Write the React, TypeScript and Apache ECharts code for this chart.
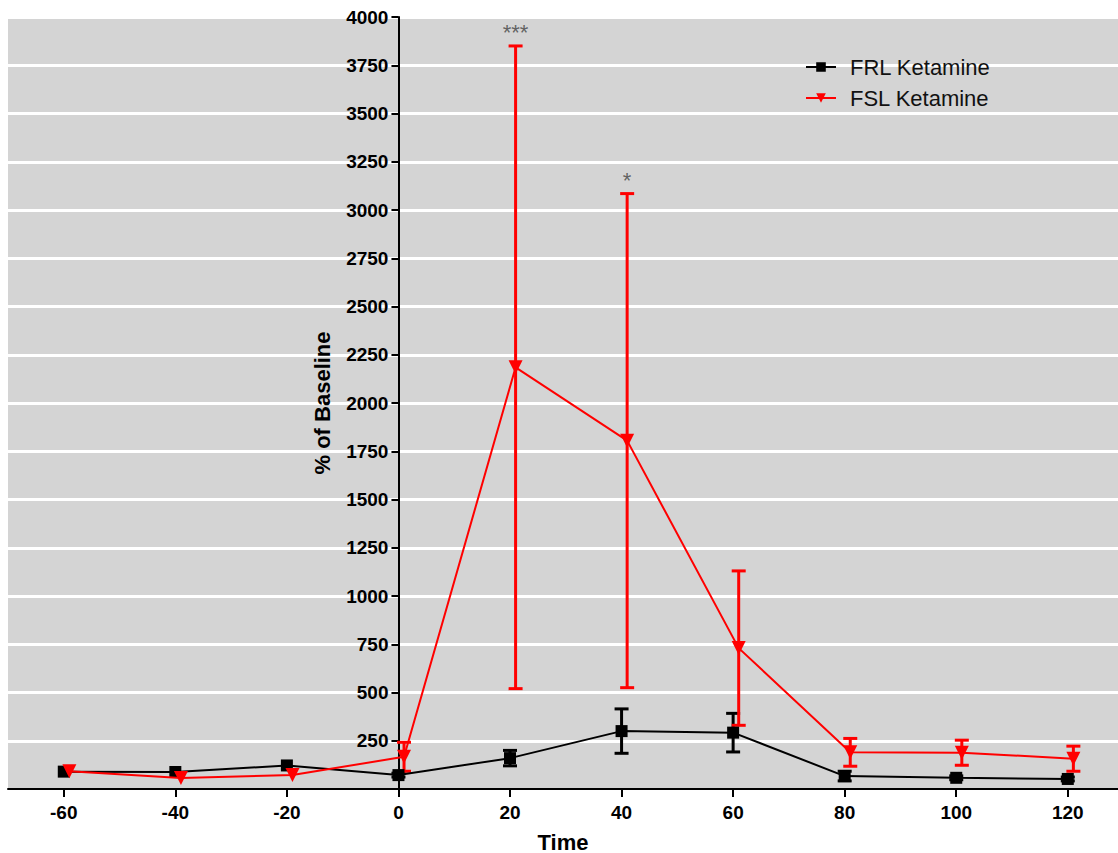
import React, { useEffect, useRef } from "react";
import * as echarts from "echarts";

const times = [-60, -40, -20, 0, 20, 40, 60, 80, 100, 120];
const frlMean = [90, 88, 122, 72, 160, 300, 292, 67, 58, 52];
const frlErr = [0, 0, 0, 10, 40, 115, 100, 25, 10, 10];
const fslMean = [92, 57, 72, 167, 2185, 1805, 730, 190, 188, 157];
const fslErr = [0, 0, 0, 75, 1665, 1280, 400, 72, 65, 65];
const xTickValues = [-60, -40, -20, 0, 20, 40, 60, 80, 100, 120];
const sigTimes = [20, 40];
const sigLabels = ["***", "*"];
const fslOffset = 1;

const FONT = "Liberation Sans, Arial, sans-serif";
const X_MIN = -70;
const X_MAX = 129;
const GRID_LEFT = 8;
const GRID_RIGHT = 0;
const WIDTH = 1118;

export default function App() {
  const ref = useRef<HTMLDivElement>(null);
  useEffect(() => {
    if (!ref.current) return;
    const chart = echarts.init(ref.current, null, { renderer: "svg" });

    const gridW = WIDTH - GRID_LEFT - GRID_RIGHT;
    const zeroOffset = ((0 - X_MIN) / (X_MAX - X_MIN)) * gridW;

    const errSeries = (name: string, xs: number[], means: number[], errs: number[], color: string) => ({
      type: "custom",
      name,
      z: 3,
      data: xs.map((t, i) => [t, means[i] - errs[i], means[i] + errs[i]]).filter((d, i) => errs[i] > 0),
      renderItem: (params: any, api: any) => {
        const x = api.value(0);
        const top = api.coord([x, api.value(2)]);
        const bot = api.coord([x, api.value(1)]);
        const hw = 7;
        const st = { stroke: color, lineWidth: 3 };
        return {
          type: "group",
          children: [
            { type: "line", shape: { x1: top[0], y1: top[1], x2: bot[0], y2: bot[1] }, style: st },
            { type: "line", shape: { x1: top[0] - hw, y1: top[1], x2: top[0] + hw, y2: top[1] }, style: st },
            { type: "line", shape: { x1: bot[0] - hw, y1: bot[1], x2: bot[0] + hw, y2: bot[1] }, style: st },
          ],
        };
      },
    });

    const option: any = {
      animation: false,
      backgroundColor: "#ffffff",
      grid: {
        left: GRID_LEFT,
        right: GRID_RIGHT,
        top: 17,
        bottom: 64,
        containLabel: false,
        outerBoundsMode: "none",
        show: true,
        backgroundColor: "#d4d4d4",
        borderWidth: 0,
      },
      legend: {
        orient: "vertical",
        left: 805,
        top: 56,
        padding: 0,
        itemGap: 9,
        itemWidth: 30,
        itemHeight: 12,
        data: ["FRL Ketamine", "FSL Ketamine"],
        textStyle: { fontFamily: FONT, fontSize: 22, color: "#111", padding: [0, 0, 0, 9] },
      },
      xAxis: {
        type: "value",
        min: X_MIN,
        max: X_MAX,
        name: "Time",
        nameLocation: "middle",
        nameGap: 42,
        nameTextStyle: { fontFamily: FONT, fontSize: 22, fontWeight: "bold", color: "#000" },
        axisLine: { show: true, onZero: false, lineStyle: { color: "#000", width: 2 } },
        axisTick: { show: true, length: 8, customValues: xTickValues, lineStyle: { color: "#000", width: 2 } },
        axisLabel: {
          customValues: xTickValues,
          fontFamily: FONT,
          fontSize: 19,
          fontWeight: "bold",
          color: "#000",
          margin: 14,
        },
        splitLine: { show: false },
      },
      yAxis: {
        type: "value",
        min: 0,
        max: 4000,
        interval: 250,
        position: "left",
        offset: -zeroOffset,
        name: "% of Baseline",
        nameLocation: "middle",
        nameGap: 65,
        nameRotate: 90,
        nameTextStyle: { fontFamily: FONT, fontSize: 22, fontWeight: "bold", color: "#000" },
        axisLine: { show: true, onZero: false, lineStyle: { color: "#000", width: 2 } },
        axisTick: { show: true, length: 7, lineStyle: { color: "#000", width: 2 } },
        axisLabel: {
          fontFamily: FONT,
          fontSize: 19,
          fontWeight: "bold",
          color: "#000",
          margin: 10,
          formatter: (v: number) => (v === 0 ? "" : String(v)),
        },
        splitLine: { show: true, lineStyle: { color: "#ffffff", width: 3 } },
      },
      series: [
        errSeries("FRL err", times, frlMean, frlErr, "#000000"),
        errSeries("FSL err", times.map((t) => t + fslOffset), fslMean, fslErr, "#ff0000"),
        {
          type: "line",
          name: "FRL Ketamine",
          z: 4,
          data: times.map((t, i) => [t, frlMean[i]]),
          symbol: "rect",
          symbolSize: 12,
          lineStyle: { color: "#000", width: 2 },
          itemStyle: { color: "#000" },
        },
        {
          type: "line",
          name: "FSL Ketamine",
          z: 5,
          data: times.map((t, i) => [t + fslOffset, fslMean[i]]),
          symbol: "triangle",
          symbolRotate: 180,
          symbolSize: 14,
          lineStyle: { color: "#ff0000", width: 2 },
          itemStyle: { color: "#ff0000" },
        },
        {
          type: "scatter",
          name: "sig",
          z: 6,
          symbolSize: 0,
          data: sigTimes.map((t, i) => {
            const idx = times.indexOf(t);
            return { value: [t + fslOffset, fslMean[idx] + fslErr[idx]], label: { formatter: sigLabels[i] } };
          }),
          label: {
            show: true,
            position: "top",
            distance: 2,
            fontFamily: FONT,
            fontSize: 22,
            color: "#444",
          },
        },
      ],
    };
    chart.setOption(option);
    return () => chart.dispose();
  }, []);

  return (
    <div
      ref={ref}
      style={{ position: "fixed", left: 0, top: 0, width: 1118, height: 853 }}
    />
  );
}
